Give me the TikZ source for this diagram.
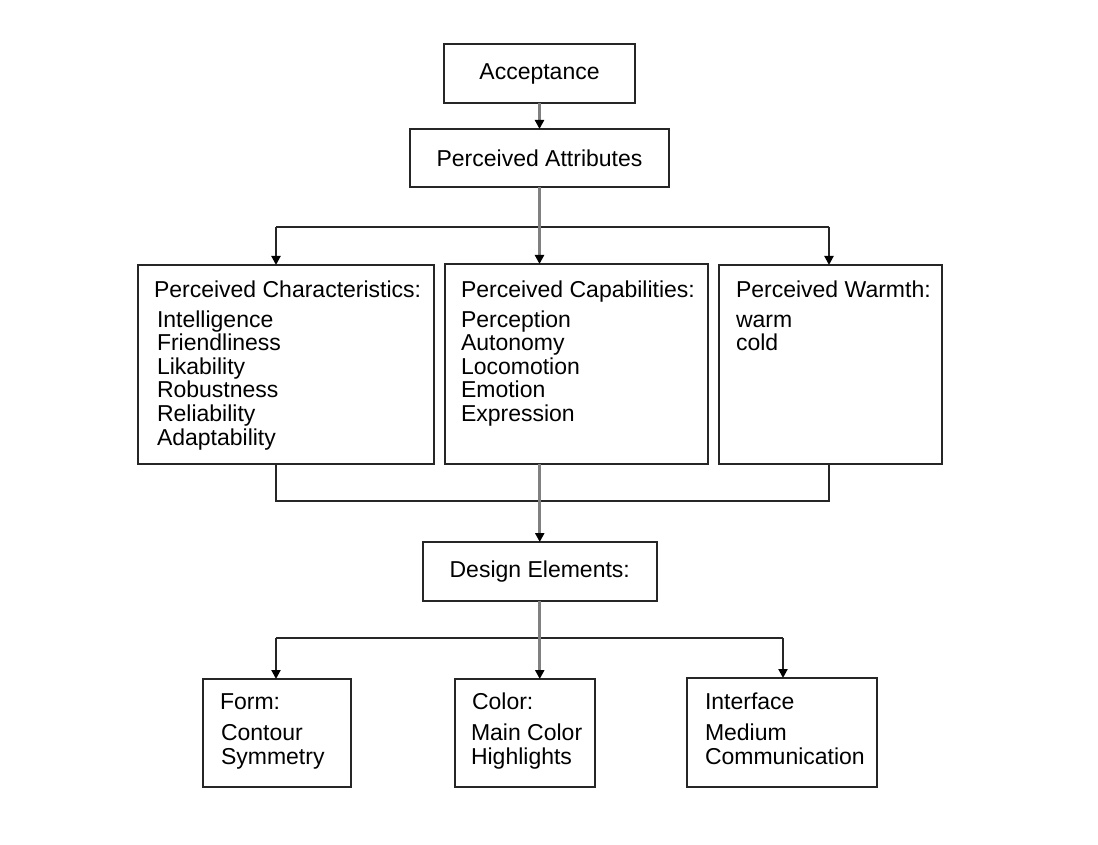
\documentclass[tikz,border=0pt]{standalone}
\usepackage{fontspec}
\setmainfont{Liberation Sans}
\usetikzlibrary{arrows.meta}
\begin{document}
\begin{tikzpicture}[x=1pt,y=-1pt,
  box/.style={draw=black!85,line width=2pt,fill=white,inner sep=0pt,outer sep=0pt,font=\fontsize{23}{24}\selectfont},
  txt/.style={inner sep=0pt,outer sep=0pt,anchor=base west,font=\fontsize{23}{24}\selectfont},
  conn/.style={draw=black!85,line width=2pt},
  mainline/.style={draw=black!50,line width=2.6pt},
  tip/.style={-{Triangle[width=9pt,length=9pt,color=black]}}
]
\useasboundingbox[fill=white] (0,0) rectangle (1098,845);
% boxes
\node[box,minimum width=191pt,minimum height=59pt] (acc) at (539.5,73.5) {Acceptance};
\node[box,minimum width=259pt,minimum height=58pt] (pa) at (539.5,158) {Perceived Attributes};
\node[box,minimum width=296pt,minimum height=199pt] (lbox) at (286,364.5) {};
\node[box,minimum width=263pt,minimum height=200pt] (mbox) at (576.5,364) {};
\node[box,minimum width=223pt,minimum height=199pt] (rbox) at (830.5,364.5) {};
\node[box,minimum width=234.5pt,minimum height=59pt] (des) at (539.75,571.5) {Design Elements:};
\node[box,minimum width=148pt,minimum height=108pt] (form) at (277,733) {};
\node[box,minimum width=140pt,minimum height=108pt] (col) at (525,733) {};
\node[box,minimum width=190pt,minimum height=109pt] (ifc) at (782,732.5) {};
% texts in the upper boxes
\node[txt] (lh) at (154,298) {Perceived Characteristics:};
\foreach \t [count=\i from 0] in {Intelligence,Friendliness,Likability,Robustness,Reliability,Adaptability}
  \node[txt] (l\i) at (157,{327+23.6*\i}) {\t};
\node[txt] (mh) at (461,298) {Perceived Capabilities:};
\foreach \t [count=\i from 0] in {Perception,Autonomy,Locomotion,Emotion,Expression}
  \node[txt] (m\i) at (461,{327+23.6*\i}) {\t};
\node[txt] (rh) at (736,298) {Perceived Warmth:};
\foreach \t [count=\i from 0] in {warm,cold}
  \node[txt] (r\i) at (736,{327+23.6*\i}) {\t};
% texts in the lower boxes
\node[txt] (fh) at (220,709) {Form:};
\node[txt] (f0) at (221,740) {Contour};
\node[txt] (f1) at (221,764) {Symmetry};
\node[txt] (ch) at (472,709) {Color:};
\node[txt] (c0) at (471,740) {Main Color};
\node[txt] (c1) at (471,764) {Highlights};
\node[txt] (ih) at (705,709) {Interface};
\node[txt] (i0) at (705,740) {Medium};
\node[txt] (i1) at (705,764) {Communication};
% junction coordinates
\coordinate (j1) at (276,227);
\coordinate (j2) at (829,227);
\coordinate (b1) at (276,501);
\coordinate (b2) at (829,501);
\coordinate (k1) at (276,638);
\coordinate (k2) at (783,638);
% connectors
\draw[conn] (j1) -- (j2);
\draw[conn,tip] (j1) -- (j1 |- lbox.north);
\draw[conn,tip] (j2) -- (j2 |- rbox.north);
\draw[conn] (b1 |- lbox.south) -- (b1) -- (b2) -- (b2 |- rbox.south);
\draw[conn] (k1) -- (k2);
\draw[conn,tip] (k1) -- (k1 |- form.north);
\draw[conn,tip] (k2) -- (k2 |- ifc.north);
\draw[mainline,tip] (acc.south) -- (pa.north);
\draw[mainline,tip] (pa.south) -- (pa.south |- mbox.north);
\draw[mainline,tip] (des.north |- mbox.south) -- (des.north);
\draw[mainline,tip] (des.south) -- (des.south |- col.north);
\end{tikzpicture}
\end{document}
